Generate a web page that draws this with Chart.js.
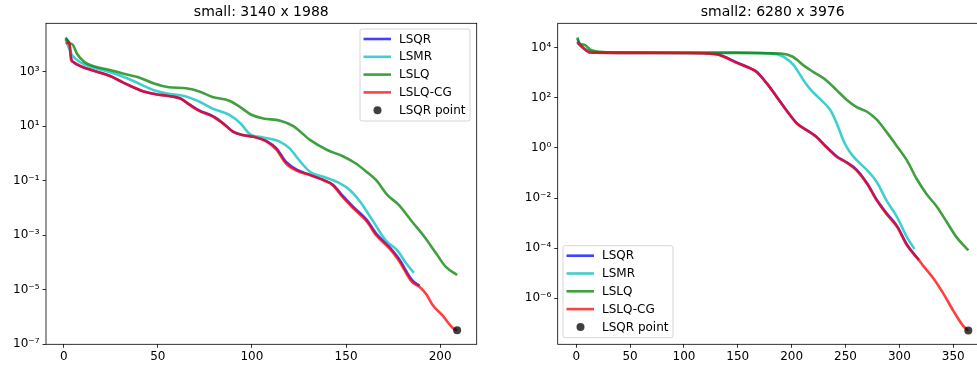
<!DOCTYPE html>
<html>
<head>
<meta charset="utf-8">
<script src="https://cdn.jsdelivr.net/npm/chart.js@4.4.0/dist/chart.umd.min.js"></script>
<style>
html, body { margin: 0; padding: 0; background: #fff; overflow: hidden; width: 977px; height: 368px; }
#c1 { position: absolute; left: 0; top: 0; }
#c2 { position: absolute; left: 490px; top: 0; }
</style>
</head>
<body>
<canvas id="c1" width="490" height="368" style="width:490px;height:368px"></canvas>
<canvas id="c2" width="510" height="368" style="width:510px;height:368px"></canvas>
<script>
// ---- small: 3140 x 1988 ----
var lsqr1_x = [1, 3, 4, 5, 10, 16, 25, 30, 37, 42, 49, 56, 62, 67, 72, 79, 85, 90, 95, 101, 108, 113, 118, 124, 131, 138, 143, 148, 154, 161, 166, 173, 178, 185, 189]
var lsqr1_y = [1.6e4, 1.1e4, 3.0e3, 2.3e3, 1.5e3, 1.1e3, 6.9e2, 4.6e2, 2.7e2, 1.95e2, 1.5e2, 1.3e2, 1.05e2, 62, 38, 24, 12.5, 6.4, 4.8, 4.1, 2.8, 1.55, 0.5, 0.25, 0.165, 0.108, 0.072, 0.029, 0.0108, 3.7e-3, 1.15e-3, 3.8e-4, 1.4e-4, 2.3e-5, 1.4e-5]
var lsmr1_x = [1, 4, 6, 12, 19, 28, 37, 48, 55, 64, 71, 79, 88, 94, 99, 106, 115, 120, 125, 131, 138, 147, 152, 157, 164, 171, 177, 182, 186]
var lsmr1_y = [1.55e4, 4.7e3, 3.1e3, 1.75e3, 1.25e3, 8.1e2, 4.6e2, 2.1e2, 1.6e2, 1.3e2, 87, 45, 26, 12.6, 5.1, 3.9, 2.7, 1.55, 0.58, 0.21, 0.14, 0.079, 0.046, 0.019, 3.6e-3, 6.6e-4, 2.9e-4, 9.3e-5, 4.2e-5]
var lslq1_x = [1, 3, 5, 7, 11, 16, 25, 33, 40, 48, 56, 65, 72, 79, 88, 93, 100, 106, 115, 122, 131, 140, 148, 155, 161, 166, 172, 178, 185, 191, 198, 203, 209]
var lslq1_y = [1.8e4, 1.15e4, 9.5e3, 4.7e3, 2.3e3, 1.6e3, 1.15e3, 8.1e2, 6.2e2, 3.7e2, 2.7e2, 2.5e2, 1.9e2, 1.2e2, 87, 55, 26, 19.5, 16, 10.2, 3.1, 1.35, 0.81, 0.44, 0.21, 0.105, 0.030, 0.013, 3.2e-3, 1.0e-3, 2.1e-4, 6.9e-5, 3.5e-5]
var cg1_x = [1, 3, 4, 5, 10, 16, 25, 30, 37, 42, 49, 56, 62, 67, 72, 79, 85, 90, 95, 101, 108, 113, 118, 124, 131, 138, 143, 148, 154, 161, 166, 173, 178, 185, 189, 193, 196, 201, 207, 209]
var cg1_y = [1.15e4, 1.1e4, 2.7e3, 2.3e3, 1.5e3, 1.1e3, 6.9e2, 4.6e2, 2.7e2, 1.95e2, 1.5e2, 1.3e2, 1.05e2, 60, 37, 23, 12, 6.3, 4.8, 4.1, 2.7, 1.4, 0.44, 0.23, 0.16, 0.105, 0.069, 0.026, 9.5e-3, 3.2e-3, 1.0e-3, 3.3e-4, 1.2e-4, 1.95e-5, 1.3e-5, 6.3e-6, 2.75e-6, 1.2e-6, 3.8e-7, 3.3e-7]
var point1 = [209, 3.3e-7]
var yTicks1 = [1e-7, 1e-5, 1e-3, 1e-1, 1e1, 1e3]
var xTicks1 = [0, 50, 100, 150, 200]

// ---- small2: 6280 x 3976 ----
var lsqr2_x = [1, 5, 10, 13, 40, 100, 130, 137, 149, 158, 167, 177, 186, 195, 205, 214, 223, 232, 242, 251, 260, 270, 279, 288, 298, 307, 318]
var lsqr2_y = [1.8e4, 1.15e4, 7.6e3, 6.5e3, 6.3e3, 6.2e3, 5.6e3, 4.5e3, 2.6e3, 1.8e3, 1.15e3, 3.8e2, 1.15e2, 33, 9.6, 5.2, 2.8, 1.15, 0.46, 0.27, 0.14, 0.039, 8.6e-3, 2.5e-3, 7.4e-4, 1.4e-4, 3.4e-5]
var lsmr2_x = [1, 4, 10, 20, 60, 150, 186, 195, 202, 211, 217, 226, 236, 242, 248, 254, 260, 270, 279, 288, 298, 307, 314]
var lsmr2_y = [2.3e4, 1.3e4, 8.1e3, 6.6e3, 6.5e3, 6.5e3, 5.6e3, 3.7e3, 2.0e3, 5.1e2, 2.3e2, 93, 32, 9.3, 2.0, 0.69, 0.34, 0.13, 0.044, 8.1e-3, 1.7e-3, 2.75e-4, 9.3e-5]
var lslq2_x = [1, 3, 8, 13, 22, 40, 100, 150, 190, 201, 211, 220, 232, 242, 251, 260, 270, 279, 288, 297, 307, 316, 325, 335, 344, 353, 364]
var lslq2_y = [2.6e4, 1.5e4, 1.3e4, 8.5e3, 6.9e3, 6.5e3, 6.3e3, 6.3e3, 5.9e3, 4.4e3, 2.0e3, 1.1e3, 5.1e2, 2.0e2, 85, 44, 28, 13.5, 4.4, 1.3, 0.32, 0.059, 0.015, 4.4e-3, 1.1e-3, 2.75e-4, 8.1e-5]
var cg2_x = [1, 5, 10, 13, 40, 100, 130, 137, 149, 158, 167, 177, 186, 195, 205, 214, 223, 232, 242, 251, 260, 270, 279, 288, 298, 307, 318, 322, 332, 341, 350, 359, 364]
var cg2_y = [1.6e4, 1.1e4, 7.6e3, 6.5e3, 6.3e3, 6.2e3, 5.6e3, 4.4e3, 2.5e3, 1.75e3, 1.1e3, 3.7e2, 1.1e2, 32, 9.3, 5.1, 2.75, 1.1, 0.44, 0.26, 0.13, 0.037, 8.1e-3, 2.3e-3, 6.9e-4, 1.3e-4, 3.4e-5, 2.0e-5, 5.9e-6, 1.5e-6, 3.2e-7, 8.1e-8, 5.1e-8]
var point2 = [364, 5.1e-8]
var yTicks2 = [1e-6, 1e-4, 1e-2, 1e0, 1e2, 1e4]
var xTicks2 = [0, 50, 100, 150, 200, 250, 300, 350]

var FONT = 'DejaVu Sans'
var sup = {'-': '\u207B', '0': '\u2070', '1': '\u00B9', '2': '\u00B2', '3': '\u00B3', '4': '\u2074', '5': '\u2075', '6': '\u2076', '7': '\u2077', '8': '\u2078', '9': '\u2079'}

function potencia(v) {
    var e = Math.round(Math.log10(v))
    return '10' + String(e).split('').map(function (c) { return sup[c] }).join('')
}

function puntos(xs, ys) {
    return xs.map(function (x, i) { return {x: x, y: ys[i]} })
}

function linea(label, xs, ys, color, orden) {
    return {
        label: label,
        data: puntos(xs, ys),
        borderColor: color,
        backgroundColor: color,
        borderWidth: 2.6,
        pointRadius: 0,
        fill: false,
        cubicInterpolationMode: 'monotone',
        order: orden
    }
}

// marco, titulo y leyenda dibujados como en matplotlib
var marco = {
    id: 'marco',
    afterDraw: function (chart, args, opts) {
        var ctx = chart.ctx
        var a = chart.chartArea
        ctx.save()
        ctx.strokeStyle = '#000'
        ctx.lineWidth = 0.8
        ctx.strokeRect(a.left, a.top, a.right - a.left, a.bottom - a.top)

        ctx.fillStyle = '#000'
        ctx.font = '14px ' + FONT
        ctx.textAlign = 'center'
        ctx.textBaseline = 'middle'
        ctx.fillText(opts.titulo, opts.tituloX, 12)

        var w = 110, h = 92
        var bx = opts.esquina == 'tr' ? a.right - 6.7 - w : a.left + 5.3
        var by = opts.esquina == 'tr' ? a.top + 5.7 : a.bottom - 6.6 - h
        ctx.beginPath()
        ctx.roundRect(bx, by, w, h, 2)
        ctx.fillStyle = 'rgba(255,255,255,0.8)'
        ctx.fill()
        ctx.strokeStyle = '#cccccc'
        ctx.lineWidth = 0.8
        ctx.stroke()

        ctx.font = '12px ' + FONT
        ctx.textAlign = 'left'
        chart.data.datasets.forEach(function (ds, i) {
            var yy = by + 10 + i * 17.8
            if (ds.showLine === false) {
                ctx.beginPath()
                ctx.arc(bx + 17.5, yy, 4, 0, Math.PI * 2)
                ctx.fillStyle = ds.backgroundColor
                ctx.fill()
            } else {
                ctx.beginPath()
                ctx.moveTo(bx + 3.5, yy)
                ctx.lineTo(bx + 31, yy)
                ctx.strokeStyle = ds.borderColor
                ctx.lineWidth = 2.6
                ctx.stroke()
            }
            ctx.fillStyle = '#000'
            ctx.fillText(ds.label, bx + 39, yy + 0.5)
        })
        ctx.restore()
    }
}

function crearGrafica(id, d, conf) {
    return new Chart(document.getElementById(id), {
        type: 'line',
        data: {
            datasets: [
                linea('LSQR', d.lsqr_x, d.lsqr_y, 'rgba(0,0,255,0.75)', 5),
                linea('LSMR', d.lsmr_x, d.lsmr_y, 'rgba(0,191,191,0.75)', 4),
                linea('LSLQ', d.lslq_x, d.lslq_y, 'rgba(0,128,0,0.75)', 3),
                linea('LSLQ-CG', d.cg_x, d.cg_y, 'rgba(255,0,0,0.75)', 2),
                {
                    label: 'LSQR point',
                    data: [{x: d.point[0], y: d.point[1]}],
                    showLine: false,
                    pointRadius: 4,
                    pointBorderWidth: 0,
                    backgroundColor: 'rgba(0,0,0,0.75)',
                    borderColor: 'rgba(0,0,0,0.75)',
                    order: 1
                }
            ]
        },
        options: {
            responsive: false,
            animation: false,
            layout: {padding: {left: 0, top: 23.3, right: conf.padRight, bottom: 0}},
            plugins: {
                legend: {display: false},
                tooltip: {enabled: false},
                marco: {titulo: conf.titulo, tituloX: conf.tituloX, esquina: conf.esquina}
            },
            scales: {
                x: {
                    type: 'linear',
                    min: conf.xmin,
                    max: conf.xmax,
                    afterBuildTicks: function (s) { s.ticks = d.xTicks.map(function (v) { return {value: v} }) },
                    afterFit: function (s) { s.height = 23.7 },
                    border: {display: false},
                    grid: {drawOnChartArea: false, drawTicks: true, tickLength: 3.5, color: '#000', lineWidth: 0.8},
                    ticks: {font: {family: FONT, size: 12}, color: '#000', padding: 2, maxRotation: 0,
                        callback: function (v) { return String(v) }}
                },
                y: {
                    type: 'logarithmic',
                    min: conf.ymin,
                    max: conf.ymax,
                    afterBuildTicks: function (s) { s.ticks = d.yTicks.map(function (v) { return {value: v} }) },
                    afterFit: function (s) { s.width = conf.yWidth },
                    border: {display: false},
                    grid: {drawOnChartArea: false, drawTicks: true, tickLength: 3.5, color: '#000', lineWidth: 0.8},
                    ticks: {font: {family: FONT, size: 12}, color: '#000', padding: 3,
                        callback: function (v) { return potencia(v) }}
                }
            }
        },
        plugins: [marco]
    })
}

crearGrafica('c1', {
    lsqr_x: lsqr1_x, lsqr_y: lsqr1_y, lsmr_x: lsmr1_x, lsmr_y: lsmr1_y,
    lslq_x: lslq1_x, lslq_y: lslq1_y, cg_x: cg1_x, cg_y: cg1_y,
    point: point1, yTicks: yTicks1, xTicks: xTicks1
}, {
    titulo: 'small: 3140 x 1988', tituloX: 261.3, esquina: 'tr',
    padRight: 13.3, yWidth: 46, xmin: -9.4, xmax: 219.4,
    ymin: Math.pow(10, -7.0), ymax: Math.pow(10, 4.78)
})

crearGrafica('c2', {
    lsqr_x: lsqr2_x, lsqr_y: lsqr2_y, lsmr_x: lsmr2_x, lsmr_y: lsmr2_y,
    lslq_x: lslq2_x, lslq_y: lslq2_y, cg_x: cg2_x, cg_y: cg2_y,
    point: point2, yTicks: yTicks2, xTicks: xTicks2
}, {
    titulo: 'small2: 6280 x 3976', tituloX: 282.7, esquina: 'bl',
    padRight: 11, yWidth: 67.7, xmin: -17.2, xmax: 383.2,
    ymin: Math.pow(10, -7.84), ymax: Math.pow(10, 4.98)
})
</script>
</body>
</html>
